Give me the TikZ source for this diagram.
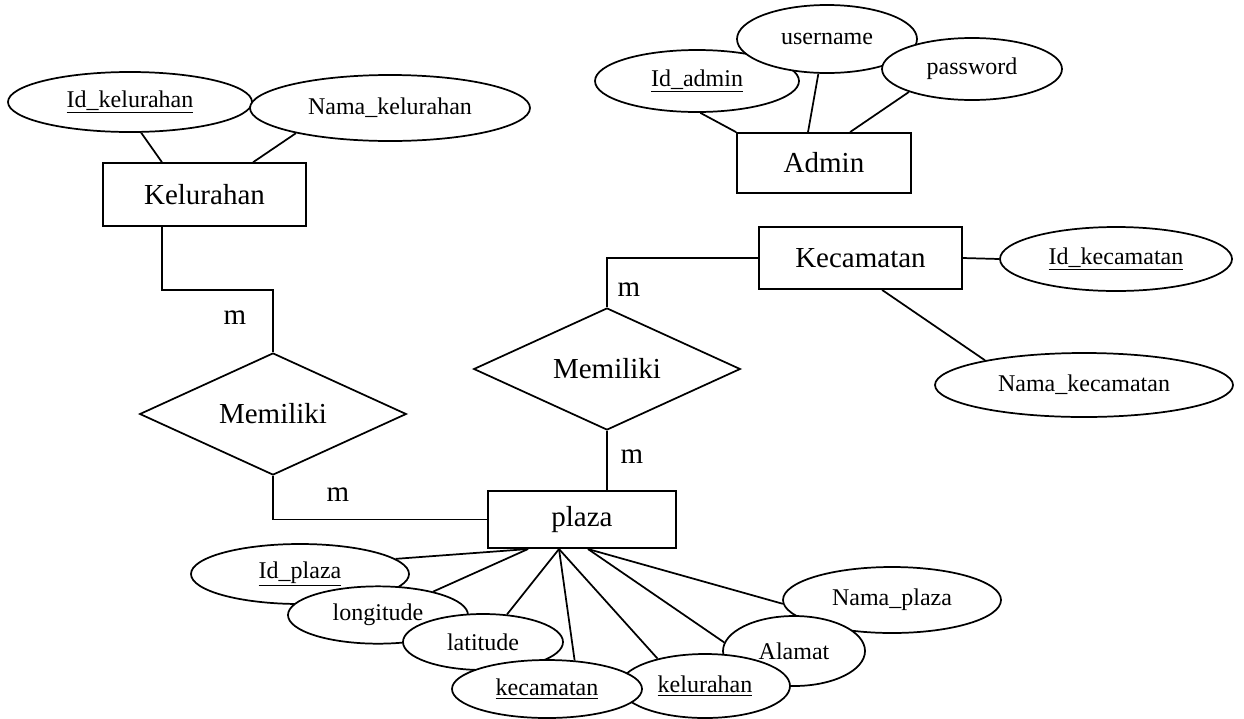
\documentclass[tikz,border=0pt]{standalone}
\usepackage{fontspec}
\setmainfont{Liberation Serif}
\usetikzlibrary{shapes.geometric,backgrounds}
\tikzset{
  entity/.style={draw, fill=white, inner sep=0pt, font=\fontsize{21.75}{26}\selectfont},
  attr/.style={draw, ellipse, fill=white, inner sep=0pt, font=\fontsize{18}{22}\selectfont},
  rel/.style={draw, diamond, aspect=2.2, fill=white, inner sep=0pt, minimum width=200pt, minimum height=91.5pt, font=\fontsize{21.75}{26}\selectfont},
  card/.style={font=\fontsize{21.75}{26}\selectfont},
  conn/.style={line width=1.3pt}
}
\begin{document}
\begin{tikzpicture}[x=0.75pt, y=-0.75pt, line width=1.3pt]
        \useasboundingbox (0,0) rectangle (1244,718);
        % entities
        \node[entity, minimum width=152pt, minimum height=47pt] (kelurahan) at (204.5,194.5) {Kelurahan};
        \node[entity, minimum width=130.5pt, minimum height=45pt] (admin) at (824,163) {Admin};
        \node[entity, minimum width=152pt, minimum height=46.5pt] (kecamatan) at (860.5,258) {Kecamatan};
        \node[entity, minimum width=141pt, minimum height=43pt] (plaza) at (582,519.5) {plaza};
        % relationships
        \node[rel] (mem1) at (273,414) {Memiliki};
        \node[rel] (mem2) at (607,369) {Memiliki};
        % attributes
        \node[attr, minimum width=183pt, minimum height=45pt] (idkel) at (130,102) {\underline{Id\_kelurahan}};
        \node[attr, minimum width=210pt, minimum height=49.5pt] (namakel) at (390,108) {Nama\_kelurahan};
        \node[attr, minimum width=153pt, minimum height=46.5pt] (idadmin) at (697,81) {\underline{Id\_admin}};
        \node[attr, minimum width=135pt, minimum height=51pt] (username) at (827,39) {username};
        \node[attr, minimum width=135pt, minimum height=46.5pt] (password) at (972,69) {password};
        \node[attr, minimum width=174pt, minimum height=48pt] (idkec) at (1116,259) {\underline{Id\_kecamatan}};
        \node[attr, minimum width=223.5pt, minimum height=48pt] (namakec) at (1084,385) {Nama\_kecamatan};
        \node[attr, minimum width=163.5pt, minimum height=45pt] (idplaza) at (300,574) {\underline{Id\_plaza}};
        \node[attr, minimum width=135pt, minimum height=43pt] (longitude) at (378,615) {longitude};
        \node[attr, minimum width=120pt, minimum height=42pt] (latitude) at (483,642) {latitude};
        \node[attr, minimum width=163.5pt, minimum height=49.5pt] (namaplaza) at (892,600) {Nama\_plaza};
        \node[attr, minimum width=106.5pt, minimum height=52.5pt] (alamat) at (794,651) {Alamat};
        \node[attr, minimum width=127.5pt, minimum height=48pt] (kelattr) at (705,686) {\underline{kelurahan}};
        \node[attr, minimum width=142.5pt, minimum height=43.5pt] (kecattr) at (547,689) {\underline{kecamatan}};
        % cardinalities
        \node[card] (m1) at (235,318) {m};
        \node[card] (m2) at (338,495) {m};
        \node[card] (m3) at (629,290) {m};
        \node[card] (m4) at (632,457) {m};
        \begin{pgfonlayer}{background}
        % relationship lines
        \draw[conn] (kelurahan.south) ++(-42.5,0) -- ++(0,63) -| (mem1.north);
        \draw[conn] (mem1.south) |- (plaza.west);
        \draw[conn] (kecamatan.west) -| (mem2.north);
        \draw[conn] (mem2.south) -- (mem2.south |- plaza.north);
        % attribute lines
        \draw[conn] (kelurahan.north) ++(-42.5,0) -- (idkel.-70);
        \draw[conn] (kelurahan.north) ++(48.5,0) -- (namakel.195);
        \draw[conn] (admin.north west) -- (idadmin.-84);
        \draw[conn] (admin.north) ++(-16,0) -- (username.-104);
        \draw[conn] (admin.north) ++(26,0) -- (password.-160);
        \draw[conn] (kecamatan.east) -- (idkec.west);
        \draw[conn] (kecamatan.south) ++(21.5,0) -- (namakec.166);
        \draw[conn] (plaza.south) ++(-54,0) -- (idplaza.9);
        \draw[conn] (plaza.south) ++(-54,0) -- (longitude.23);
        \draw[conn] (plaza.south) ++(-23,0) -- (latitude.49);
        \draw[conn] (plaza.south) ++(-23,0) -- (kecattr.46);
        \draw[conn] (plaza.south) ++(-23,0) -- (kelattr.150);
        \draw[conn] (plaza.south) ++(6,0) -- (alamat.173);
        \draw[conn] (plaza.south) ++(6,0) -- (namaplaza.182);
        \end{pgfonlayer}
\end{tikzpicture}
\end{document}
